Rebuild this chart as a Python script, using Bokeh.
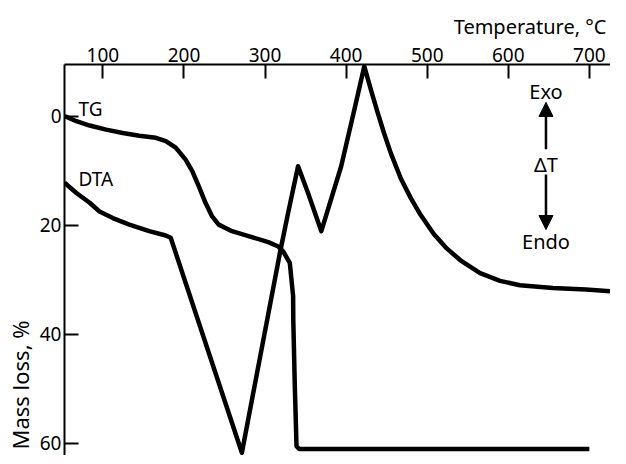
from bokeh.plotting import figure
from bokeh.models import Range1d, FixedTicker, Label, Arrow, NormalHead, Title
from bokeh.embed import file_html
from bokeh.resources import INLINE

# TG curve: temperature (°C) vs mass loss (%)
tg_temp = [52.6, 67.3, 83.6, 104, 124.5, 144.8, 165.3, 177.5, 189.8, 202, 210.2, 218.3,
           226.5, 234.7, 242.8, 259.2, 279.5, 304, 316.2, 322.3, 330.5, 334.6, 334.8,
           336.7, 338.8, 342, 700]
tg_loss = [0, 0.95, 1.74, 2.5, 3.1, 3.6, 4.0, 4.6, 5.8, 8.0, 10.1, 12.9,
           15.9, 18.4, 19.9, 21.1, 22.0, 23.1, 23.9, 24.8, 26.9, 33.0, 37.3,
           49.5, 60.5, 61.0, 61.0]

# DTA curve (arbitrary units, drawn on the mass-loss scale)
dta_temp = [52.6, 67.3, 83.6, 95.8, 112.2, 132.6, 157.1, 177.5, 183.6, 271.4, 318.3,
            328.5, 340.7, 353, 369.4, 393.9, 410.2, 422.4, 430.6, 438.7, 446.9, 455.1,
            467.3, 479.6, 491.8, 508.1, 524.4, 542.4, 565.3, 589.8, 614.3, 655, 695.8, 736]
dta_val = [12.2, 14.1, 15.9, 17.5, 18.7, 19.9, 21.1, 21.9, 22.3, 61.7, 25.1,
           17.7, 9.2, 14.1, 21.1, 9.2, -1.2, -9.1, -4.8, -0.7, 3.2, 6.8,
           11.4, 15.0, 18.1, 21.6, 24.3, 26.6, 28.8, 30.2, 31.0, 31.5, 31.8, 32.2]

x_ticks = [100, 200, 300, 400, 500, 600, 700]
y_ticks = [0, 20, 40, 60]

FONT = "Noto Sans"
FS = "19px"

p = figure(width=610, height=455, output_backend="svg", toolbar_location=None,
           x_range=Range1d(52.6, 726.1), y_range=Range1d(62.2, -9.44),
           x_axis_location="above", y_axis_location="left",
           title="Temperature, °C", title_location="above",
           min_border_left=60, min_border_right=0, min_border_top=64, min_border_bottom=0)
p.outline_line_color = None
p.xgrid.visible = False
p.ygrid.visible = False
p.background_fill_color = "white"

p.title.align = "right"
p.title.offset = 4
p.title.text_font = FONT
p.title.text_font_size = "20px"
p.title.text_font_style = "normal"
p.title.text_color = "black"

p.add_layout(Title(text="Mass loss, %", align="left", offset=6, standoff=4,
                   text_font=FONT, text_font_size="22px", text_font_style="normal",
                   text_color="black"),
             "left")

for ax, ticks in ((p.xaxis[0], x_ticks), (p.yaxis[0], y_ticks)):
    ax.ticker = FixedTicker(ticks=ticks)
    ax.major_tick_in = 14
    ax.major_tick_out = 0
    ax.minor_tick_in = 0
    ax.minor_tick_out = 0
    ax.axis_line_width = 2
    ax.axis_line_color = "black"
    ax.major_tick_line_width = 2
    ax.major_tick_line_color = "black"
    ax.major_label_text_font = FONT
    ax.major_label_text_font_size = FS
    ax.major_label_text_color = "black"
    ax.major_label_standoff = 3

p.line(tg_temp, tg_loss, line_width=4.5, line_color="black", line_join="round")
p.line(dta_temp, dta_val, line_width=4.5, line_color="black", line_join="round")

def lab(x, y, text, align="left", size=FS):
    p.add_layout(Label(x=x, y=y, text=text, text_font=FONT, text_font_size=size,
                       text_align=align, text_baseline="middle", text_color="black"))

lab(69.8, -1.2, "TG")
lab(69.8, 11.5, "DTA")
lab(646.5, -4.5, "Exo", align="center", size="20px")
lab(646.5, 8.9, "ΔT", align="center", size="20px")
lab(646.5, 23.0, "Endo", align="center", size="20px")

p.add_layout(Arrow(end=NormalHead(size=14, fill_color="black", line_color="black"),
                   x_start=646.5, y_start=6.1, x_end=646.5, y_end=-2.5,
                   line_width=2.5, line_color="black"))
p.add_layout(Arrow(end=NormalHead(size=14, fill_color="black", line_color="black"),
                   x_start=646.5, y_start=10.7, x_end=646.5, y_end=20.8,
                   line_width=2.5, line_color="black"))

open("out.html", "w").write(file_html(p, INLINE))
